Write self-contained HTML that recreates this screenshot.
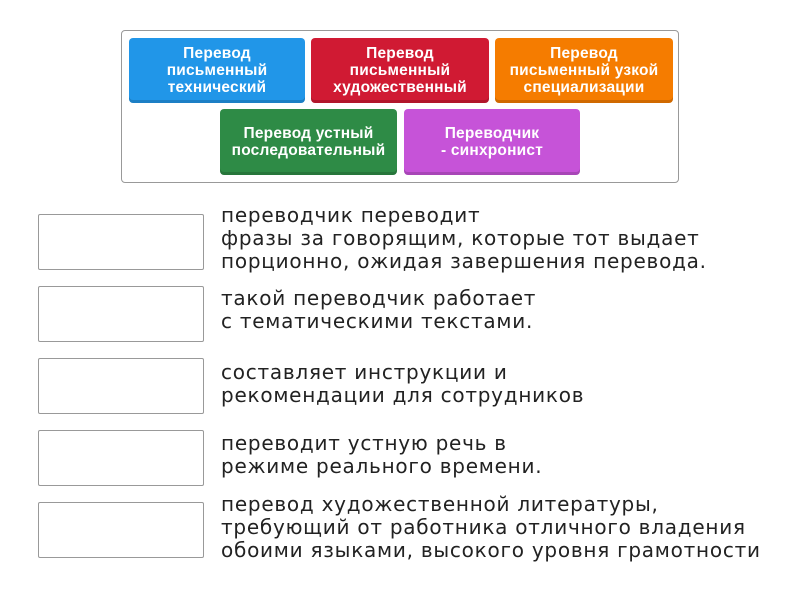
<!DOCTYPE html>
<html><head><meta charset="utf-8"><style>
body{margin:0;width:800px;height:600px;background:#fff;font-family:"Liberation Sans",sans-serif;position:relative;overflow:hidden}
.c{position:absolute;left:121px;top:30px;width:556px;height:151px;border:1px solid #999;border-radius:4px}
.t{position:absolute;height:65px;border-radius:4px;color:#fff;font-weight:bold;font-size:15.5px;line-height:17px;letter-spacing:0.2px;text-align:center;display:flex;align-items:center;justify-content:center;box-shadow:inset 0 -3px 0 rgba(0,0,0,.15)}
.b{position:absolute;left:38px;width:164px;height:54px;border:1px solid #999;border-radius:2px}
.x{position:absolute;left:221px;font-family:"DejaVu Sans",sans-serif;font-size:20px;letter-spacing:0.75px;line-height:23px;color:#222;white-space:nowrap}
</style></head><body>
<div class="c"></div>
<div class="t" style="left:129px;top:38px;width:176px;background:#2196e8">Перевод<br>письменный<br>технический</div>
<div class="t" style="left:311px;top:38px;width:178px;background:#d01a33">Перевод<br>письменный<br>художественный</div>
<div class="t" style="left:495px;top:38px;width:178px;background:#f57c00">Перевод<br>письменный узкой<br>специализации</div>
<div class="t" style="left:220px;top:109px;width:177px;height:66px;background:#2e8b46">Перевод устный<br>последовательный</div>
<div class="t" style="left:404px;top:109px;width:176px;height:66px;background:#c653d8">Переводчик<br>- синхронист</div>
<div class="b" style="top:214px"></div>
<div class="b" style="top:286px"></div>
<div class="b" style="top:358px"></div>
<div class="b" style="top:430px"></div>
<div class="b" style="top:502px"></div>
<div class="x" style="top:204px">переводчик переводит<br>фразы за говорящим, которые тот выдает<br>порционно, ожидая завершения перевода.</div>
<div class="x" style="top:287px">такой переводчик работает<br>с тематическими текстами.</div>
<div class="x" style="top:361px">составляет инструкции и<br>рекомендации для сотрудников</div>
<div class="x" style="top:432px">переводит устную речь в<br>режиме реального времени.</div>
<div class="x" style="top:493px">перевод художественной литературы,<br>требующий от работника отличного владения<br>обоими языками, высокого уровня грамотности</div>
</body></html>
